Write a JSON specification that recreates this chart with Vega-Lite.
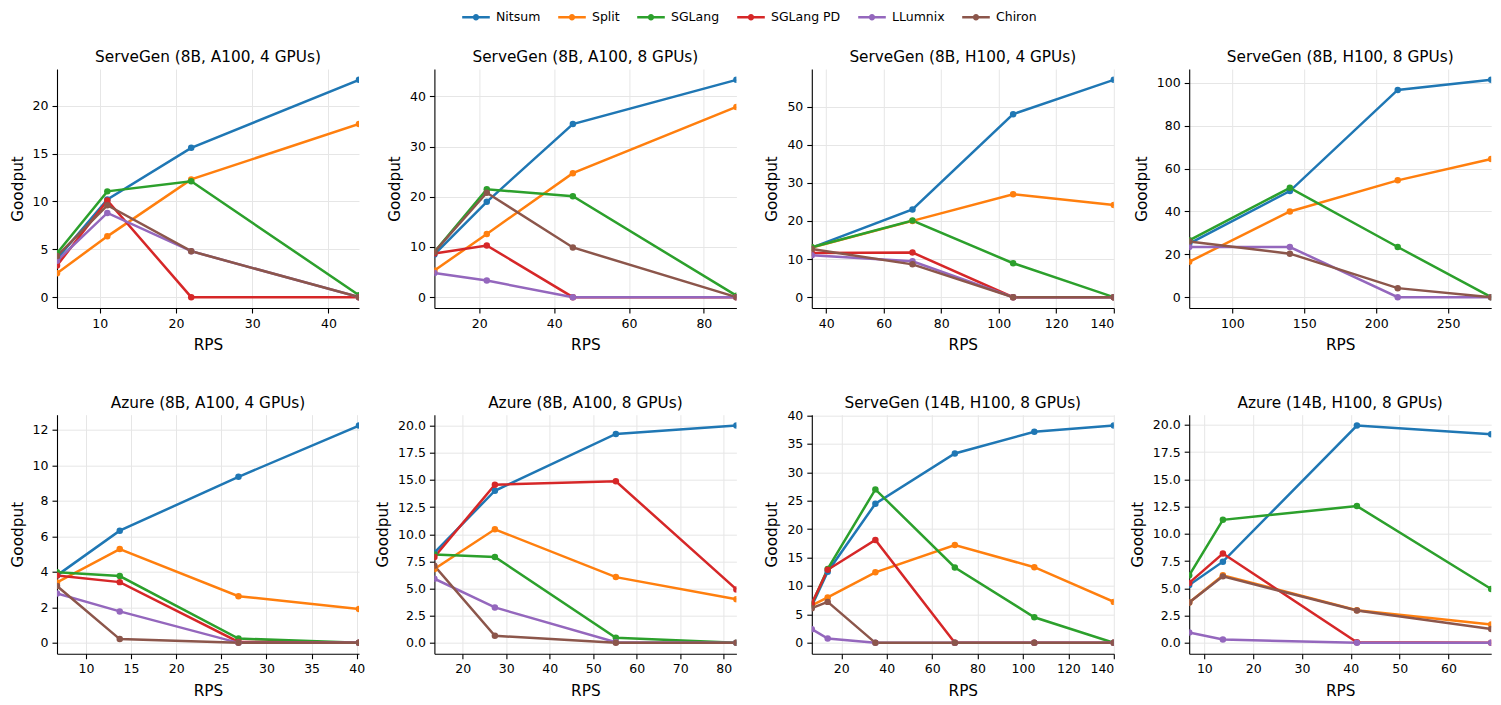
{
  "$schema": "https://vega.github.io/schema/vega-lite/v6.json",
  "background": "white",
  "padding": {"left": 10, "top": 3, "right": 5, "bottom": 5},
  "columns": 4,
  "bounds": "flush",
  "spacing": {"row": 106.7, "column": 75.4},
  "data": {"values": [
    {"panel":1,"system":"Nitsum","rps":4.4,"goodput":4.0},{"panel":1,"system":"Nitsum","rps":11,"goodput":10.2},{"panel":1,"system":"Nitsum","rps":22,"goodput":15.6},{"panel":1,"system":"Nitsum","rps":44,"goodput":22.7},
    {"panel":1,"system":"Split","rps":4.4,"goodput":2.5},{"panel":1,"system":"Split","rps":11,"goodput":6.35},{"panel":1,"system":"Split","rps":22,"goodput":12.3},{"panel":1,"system":"Split","rps":44,"goodput":18.1},
    {"panel":1,"system":"SGLang","rps":4.4,"goodput":4.6},{"panel":1,"system":"SGLang","rps":11,"goodput":11.05},{"panel":1,"system":"SGLang","rps":22,"goodput":12.1},{"panel":1,"system":"SGLang","rps":44,"goodput":0.2},
    {"panel":1,"system":"SGLang PD","rps":4.4,"goodput":3.3},{"panel":1,"system":"SGLang PD","rps":11,"goodput":10.1},{"panel":1,"system":"SGLang PD","rps":22,"goodput":0},{"panel":1,"system":"SGLang PD","rps":44,"goodput":0},
    {"panel":1,"system":"LLumnix","rps":4.4,"goodput":3.8},{"panel":1,"system":"LLumnix","rps":11,"goodput":8.8},{"panel":1,"system":"LLumnix","rps":22,"goodput":4.8},{"panel":1,"system":"LLumnix","rps":44,"goodput":0},
    {"panel":1,"system":"Chiron","rps":4.4,"goodput":4.3},{"panel":1,"system":"Chiron","rps":11,"goodput":9.6},{"panel":1,"system":"Chiron","rps":22,"goodput":4.8},{"panel":1,"system":"Chiron","rps":44,"goodput":0},

    {"panel":2,"system":"Nitsum","rps":8,"goodput":8.5},{"panel":2,"system":"Nitsum","rps":22,"goodput":19.0},{"panel":2,"system":"Nitsum","rps":45,"goodput":34.5},{"panel":2,"system":"Nitsum","rps":88.7,"goodput":43.3},
    {"panel":2,"system":"Split","rps":8,"goodput":5.3},{"panel":2,"system":"Split","rps":22,"goodput":12.6},{"panel":2,"system":"Split","rps":45,"goodput":24.7},{"panel":2,"system":"Split","rps":88.7,"goodput":37.9},
    {"panel":2,"system":"SGLang","rps":8,"goodput":9.0},{"panel":2,"system":"SGLang","rps":22,"goodput":21.5},{"panel":2,"system":"SGLang","rps":45,"goodput":20.1},{"panel":2,"system":"SGLang","rps":88.7,"goodput":0.3},
    {"panel":2,"system":"SGLang PD","rps":8,"goodput":8.7},{"panel":2,"system":"SGLang PD","rps":22,"goodput":10.3},{"panel":2,"system":"SGLang PD","rps":45,"goodput":0},{"panel":2,"system":"SGLang PD","rps":88.7,"goodput":0},
    {"panel":2,"system":"LLumnix","rps":8,"goodput":4.8},{"panel":2,"system":"LLumnix","rps":22,"goodput":3.3},{"panel":2,"system":"LLumnix","rps":45,"goodput":0},{"panel":2,"system":"LLumnix","rps":88.7,"goodput":0},
    {"panel":2,"system":"Chiron","rps":8,"goodput":9.0},{"panel":2,"system":"Chiron","rps":22,"goodput":20.8},{"panel":2,"system":"Chiron","rps":45,"goodput":9.9},{"panel":2,"system":"Chiron","rps":88.7,"goodput":0},

    {"panel":3,"system":"Nitsum","rps":35,"goodput":13.0},{"panel":3,"system":"Nitsum","rps":70,"goodput":23.0},{"panel":3,"system":"Nitsum","rps":105,"goodput":48.0},{"panel":3,"system":"Nitsum","rps":140,"goodput":57.0},
    {"panel":3,"system":"Split","rps":35,"goodput":13.0},{"panel":3,"system":"Split","rps":70,"goodput":20.0},{"panel":3,"system":"Split","rps":105,"goodput":27.0},{"panel":3,"system":"Split","rps":140,"goodput":24.2},
    {"panel":3,"system":"SGLang","rps":35,"goodput":13.1},{"panel":3,"system":"SGLang","rps":70,"goodput":20.1},{"panel":3,"system":"SGLang","rps":105,"goodput":8.9},{"panel":3,"system":"SGLang","rps":140,"goodput":0},
    {"panel":3,"system":"SGLang PD","rps":35,"goodput":11.6},{"panel":3,"system":"SGLang PD","rps":70,"goodput":11.7},{"panel":3,"system":"SGLang PD","rps":105,"goodput":0},{"panel":3,"system":"SGLang PD","rps":140,"goodput":0},
    {"panel":3,"system":"LLumnix","rps":35,"goodput":11.0},{"panel":3,"system":"LLumnix","rps":70,"goodput":9.4},{"panel":3,"system":"LLumnix","rps":105,"goodput":0},{"panel":3,"system":"LLumnix","rps":140,"goodput":0},
    {"panel":3,"system":"Chiron","rps":35,"goodput":12.6},{"panel":3,"system":"Chiron","rps":70,"goodput":8.6},{"panel":3,"system":"Chiron","rps":105,"goodput":0},{"panel":3,"system":"Chiron","rps":140,"goodput":0},

    {"panel":4,"system":"Nitsum","rps":70,"goodput":25.0},{"panel":4,"system":"Nitsum","rps":140,"goodput":49.5},{"panel":4,"system":"Nitsum","rps":215,"goodput":96.7},{"panel":4,"system":"Nitsum","rps":280,"goodput":101.4},
    {"panel":4,"system":"Split","rps":70,"goodput":16.5},{"panel":4,"system":"Split","rps":140,"goodput":40.0},{"panel":4,"system":"Split","rps":215,"goodput":54.5},{"panel":4,"system":"Split","rps":280,"goodput":64.5},
    {"panel":4,"system":"SGLang","rps":70,"goodput":26.5},{"panel":4,"system":"SGLang","rps":140,"goodput":51.0},{"panel":4,"system":"SGLang","rps":215,"goodput":23.4},{"panel":4,"system":"SGLang","rps":280,"goodput":0},
    {"panel":4,"system":"LLumnix","rps":70,"goodput":23.4},{"panel":4,"system":"LLumnix","rps":140,"goodput":23.4},{"panel":4,"system":"LLumnix","rps":215,"goodput":0},{"panel":4,"system":"LLumnix","rps":280,"goodput":0},
    {"panel":4,"system":"Chiron","rps":70,"goodput":26.0},{"panel":4,"system":"Chiron","rps":140,"goodput":20.3},{"panel":4,"system":"Chiron","rps":215,"goodput":4.2},{"panel":4,"system":"Chiron","rps":280,"goodput":0},

    {"panel":5,"system":"Nitsum","rps":6.8,"goodput":3.8},{"panel":5,"system":"Nitsum","rps":13.75,"goodput":6.32},{"panel":5,"system":"Nitsum","rps":26.9,"goodput":9.35},{"panel":5,"system":"Nitsum","rps":40.25,"goodput":12.24},
    {"panel":5,"system":"Split","rps":6.8,"goodput":3.4},{"panel":5,"system":"Split","rps":13.75,"goodput":5.28},{"panel":5,"system":"Split","rps":26.9,"goodput":2.63},{"panel":5,"system":"Split","rps":40.25,"goodput":1.9},
    {"panel":5,"system":"SGLang","rps":6.8,"goodput":3.97},{"panel":5,"system":"SGLang","rps":13.75,"goodput":3.76},{"panel":5,"system":"SGLang","rps":26.9,"goodput":0.24},{"panel":5,"system":"SGLang","rps":40.25,"goodput":0},
    {"panel":5,"system":"SGLang PD","rps":6.8,"goodput":3.8},{"panel":5,"system":"SGLang PD","rps":13.75,"goodput":3.42},{"panel":5,"system":"SGLang PD","rps":26.9,"goodput":0.05},{"panel":5,"system":"SGLang PD","rps":40.25,"goodput":0},
    {"panel":5,"system":"LLumnix","rps":6.8,"goodput":2.78},{"panel":5,"system":"LLumnix","rps":13.75,"goodput":1.77},{"panel":5,"system":"LLumnix","rps":26.9,"goodput":0},{"panel":5,"system":"LLumnix","rps":40.25,"goodput":0},
    {"panel":5,"system":"Chiron","rps":6.8,"goodput":3.2},{"panel":5,"system":"Chiron","rps":13.75,"goodput":0.21},{"panel":5,"system":"Chiron","rps":26.9,"goodput":0},{"panel":5,"system":"Chiron","rps":40.25,"goodput":0},

    {"panel":6,"system":"Nitsum","rps":13.5,"goodput":8.3},{"panel":6,"system":"Nitsum","rps":27.4,"goodput":14.0},{"panel":6,"system":"Nitsum","rps":55.2,"goodput":19.23},{"panel":6,"system":"Nitsum","rps":82.9,"goodput":20.0},
    {"panel":6,"system":"Split","rps":13.5,"goodput":6.79},{"panel":6,"system":"Split","rps":27.4,"goodput":10.45},{"panel":6,"system":"Split","rps":55.2,"goodput":6.05},{"panel":6,"system":"Split","rps":82.9,"goodput":4.02},
    {"panel":6,"system":"SGLang","rps":13.5,"goodput":8.14},{"panel":6,"system":"SGLang","rps":27.4,"goodput":7.9},{"panel":6,"system":"SGLang","rps":55.2,"goodput":0.46},{"panel":6,"system":"SGLang","rps":82.9,"goodput":0},
    {"panel":6,"system":"SGLang PD","rps":13.5,"goodput":7.9},{"panel":6,"system":"SGLang PD","rps":27.4,"goodput":14.56},{"panel":6,"system":"SGLang PD","rps":55.2,"goodput":14.87},{"panel":6,"system":"SGLang PD","rps":82.9,"goodput":4.92},
    {"panel":6,"system":"LLumnix","rps":13.5,"goodput":5.9},{"panel":6,"system":"LLumnix","rps":27.4,"goodput":3.26},{"panel":6,"system":"LLumnix","rps":55.2,"goodput":0.05},{"panel":6,"system":"LLumnix","rps":82.9,"goodput":0},
    {"panel":6,"system":"Chiron","rps":13.5,"goodput":7.1},{"panel":6,"system":"Chiron","rps":27.4,"goodput":0.65},{"panel":6,"system":"Chiron","rps":55.2,"goodput":0},{"panel":6,"system":"Chiron","rps":82.9,"goodput":0},

    {"panel":7,"system":"Nitsum","rps":7,"goodput":6.5},{"panel":7,"system":"Nitsum","rps":14,"goodput":12.5},{"panel":7,"system":"Nitsum","rps":35,"goodput":24.46},{"panel":7,"system":"Nitsum","rps":70,"goodput":33.3},{"panel":7,"system":"Nitsum","rps":105,"goodput":37.1},{"panel":7,"system":"Nitsum","rps":140,"goodput":38.2},
    {"panel":7,"system":"Split","rps":7,"goodput":6.6},{"panel":7,"system":"Split","rps":14,"goodput":7.98},{"panel":7,"system":"Split","rps":35,"goodput":12.4},{"panel":7,"system":"Split","rps":70,"goodput":17.2},{"panel":7,"system":"Split","rps":105,"goodput":13.3},{"panel":7,"system":"Split","rps":140,"goodput":7.2},
    {"panel":7,"system":"SGLang","rps":7,"goodput":6.8},{"panel":7,"system":"SGLang","rps":14,"goodput":13.0},{"panel":7,"system":"SGLang","rps":35,"goodput":26.98},{"panel":7,"system":"SGLang","rps":70,"goodput":13.25},{"panel":7,"system":"SGLang","rps":105,"goodput":4.5},{"panel":7,"system":"SGLang","rps":140,"goodput":0},
    {"panel":7,"system":"SGLang PD","rps":7,"goodput":6.9},{"panel":7,"system":"SGLang PD","rps":14,"goodput":12.85},{"panel":7,"system":"SGLang PD","rps":35,"goodput":18.1},{"panel":7,"system":"SGLang PD","rps":70,"goodput":0},{"panel":7,"system":"SGLang PD","rps":105,"goodput":0},{"panel":7,"system":"SGLang PD","rps":140,"goodput":0},
    {"panel":7,"system":"LLumnix","rps":7,"goodput":2.4},{"panel":7,"system":"LLumnix","rps":14,"goodput":0.76},{"panel":7,"system":"LLumnix","rps":35,"goodput":0},{"panel":7,"system":"LLumnix","rps":70,"goodput":0},{"panel":7,"system":"LLumnix","rps":105,"goodput":0},{"panel":7,"system":"LLumnix","rps":140,"goodput":0},
    {"panel":7,"system":"Chiron","rps":7,"goodput":6.1},{"panel":7,"system":"Chiron","rps":14,"goodput":7.2},{"panel":7,"system":"Chiron","rps":35,"goodput":0},{"panel":7,"system":"Chiron","rps":70,"goodput":0},{"panel":7,"system":"Chiron","rps":105,"goodput":0},{"panel":7,"system":"Chiron","rps":140,"goodput":0},

    {"panel":8,"system":"Nitsum","rps":6.9,"goodput":5.3},{"panel":8,"system":"Nitsum","rps":13.8,"goodput":7.45},{"panel":8,"system":"Nitsum","rps":41.25,"goodput":19.94},{"panel":8,"system":"Nitsum","rps":68.75,"goodput":19.14},
    {"panel":8,"system":"Split","rps":6.9,"goodput":3.7},{"panel":8,"system":"Split","rps":13.8,"goodput":6.2},{"panel":8,"system":"Split","rps":41.25,"goodput":3.0},{"panel":8,"system":"Split","rps":68.75,"goodput":1.69},
    {"panel":8,"system":"SGLang","rps":6.9,"goodput":6.2},{"panel":8,"system":"SGLang","rps":13.8,"goodput":11.29},{"panel":8,"system":"SGLang","rps":41.25,"goodput":12.55},{"panel":8,"system":"SGLang","rps":68.75,"goodput":4.94},
    {"panel":8,"system":"SGLang PD","rps":6.9,"goodput":5.5},{"panel":8,"system":"SGLang PD","rps":13.8,"goodput":8.2},{"panel":8,"system":"SGLang PD","rps":41.25,"goodput":0.05},{"panel":8,"system":"SGLang PD","rps":68.75,"goodput":0},
    {"panel":8,"system":"LLumnix","rps":6.9,"goodput":0.95},{"panel":8,"system":"LLumnix","rps":13.8,"goodput":0.3},{"panel":8,"system":"LLumnix","rps":41.25,"goodput":0},{"panel":8,"system":"LLumnix","rps":68.75,"goodput":0},
    {"panel":8,"system":"Chiron","rps":6.9,"goodput":3.7},{"panel":8,"system":"Chiron","rps":13.8,"goodput":6.1},{"panel":8,"system":"Chiron","rps":41.25,"goodput":2.97},{"panel":8,"system":"Chiron","rps":68.75,"goodput":1.26}
  ]},
  "concat": [
    {
      "title": "ServeGen (8B, A100, 4 GPUs)", "width": 302, "height": 239,
      "transform": [{"filter": "datum.panel == 1"}],
      "encoding": {
        "x": {"field": "rps", "type": "quantitative", "title": "RPS", "scale": {"domain": [4.4, 44], "nice": false, "zero": false}, "axis": {"values": [10, 20, 30, 40]}},
        "y": {"field": "goodput", "type": "quantitative", "title": "Goodput", "scale": {"domain": [-1.135, 23.835], "nice": false, "zero": false}, "axis": {"values": [0, 5, 10, 15, 20]}},
        "color": {"field": "system", "type": "nominal", "scale": {"domain": ["Nitsum", "Split", "SGLang", "SGLang PD", "LLumnix", "Chiron"], "range": ["#1f77b4", "#ff7f0e", "#2ca02c", "#d62728", "#9467bd", "#8c564b"]},
          "legend": {"orient": "none", "legendX": 405, "legendY": -66, "direction": "horizontal", "title": null,
            "symbolType": "M-1,-0.09H1V0.09H-1Z M0.23,0A0.23,0.23,0,1,1,-0.23,0A0.23,0.23,0,1,1,0.23,0Z",
            "symbolSize": 762, "symbolStrokeWidth": 0, "symbolOpacity": 1, "labelFontSize": 12.5, "labelFont": "DejaVu Sans", "labelColor": "#000", "labelOffset": 6, "columnPadding": 17,
            "encode": {"symbols": {"update": {"fill": {"scale": "color", "field": "value"}, "stroke": {"value": "transparent"}, "opacity": {"value": 1}}}}}}
      },
      "layer": [
        {"mark": {"type": "line", "strokeWidth": 2.5, "clip": true}},
        {"mark": {"type": "point", "filled": true, "size": 42, "opacity": 1, "clip": true}}
      ]
    },
    {
      "title": "ServeGen (8B, A100, 8 GPUs)", "width": 302, "height": 239,
      "transform": [{"filter": "datum.panel == 2"}],
      "encoding": {
        "x": {"field": "rps", "type": "quantitative", "title": "RPS", "scale": {"domain": [8, 88.7], "nice": false, "zero": false}, "axis": {"values": [20, 40, 60, 80]}},
        "y": {"field": "goodput", "type": "quantitative", "title": "Goodput", "scale": {"domain": [-2.165, 45.465], "nice": false, "zero": false}, "axis": {"values": [0, 10, 20, 30, 40]}},
        "color": {"field": "system", "type": "nominal", "scale": {"domain": ["Nitsum", "Split", "SGLang", "SGLang PD", "LLumnix", "Chiron"], "range": ["#1f77b4", "#ff7f0e", "#2ca02c", "#d62728", "#9467bd", "#8c564b"]}}
      },
      "layer": [
        {"mark": {"type": "line", "strokeWidth": 2.5, "clip": true}},
        {"mark": {"type": "point", "filled": true, "size": 42, "opacity": 1, "clip": true}}
      ]
    },
    {
      "title": "ServeGen (8B, H100, 4 GPUs)", "width": 302, "height": 239,
      "transform": [{"filter": "datum.panel == 3"}],
      "encoding": {
        "x": {"field": "rps", "type": "quantitative", "title": "RPS", "scale": {"domain": [35, 140], "nice": false, "zero": false}, "axis": {"values": [40, 60, 80, 100, 120, 140]}},
        "y": {"field": "goodput", "type": "quantitative", "title": "Goodput", "scale": {"domain": [-2.85, 59.85], "nice": false, "zero": false}, "axis": {"values": [0, 10, 20, 30, 40, 50]}},
        "color": {"field": "system", "type": "nominal", "scale": {"domain": ["Nitsum", "Split", "SGLang", "SGLang PD", "LLumnix", "Chiron"], "range": ["#1f77b4", "#ff7f0e", "#2ca02c", "#d62728", "#9467bd", "#8c564b"]}}
      },
      "layer": [
        {"mark": {"type": "line", "strokeWidth": 2.5, "clip": true}},
        {"mark": {"type": "point", "filled": true, "size": 42, "opacity": 1, "clip": true}}
      ]
    },
    {
      "title": "ServeGen (8B, H100, 8 GPUs)", "width": 302, "height": 239,
      "transform": [{"filter": "datum.panel == 4"}],
      "encoding": {
        "x": {"field": "rps", "type": "quantitative", "title": "RPS", "scale": {"domain": [70, 280], "nice": false, "zero": false}, "axis": {"values": [100, 150, 200, 250]}},
        "y": {"field": "goodput", "type": "quantitative", "title": "Goodput", "scale": {"domain": [-5.07, 106.47], "nice": false, "zero": false}, "axis": {"values": [0, 20, 40, 60, 80, 100]}},
        "color": {"field": "system", "type": "nominal", "scale": {"domain": ["Nitsum", "Split", "SGLang", "SGLang PD", "LLumnix", "Chiron"], "range": ["#1f77b4", "#ff7f0e", "#2ca02c", "#d62728", "#9467bd", "#8c564b"]}}
      },
      "layer": [
        {"mark": {"type": "line", "strokeWidth": 2.5, "clip": true}},
        {"mark": {"type": "point", "filled": true, "size": 42, "opacity": 1, "clip": true}}
      ]
    },
    {
      "title": "Azure (8B, A100, 4 GPUs)", "width": 302, "height": 239,
      "transform": [{"filter": "datum.panel == 5"}],
      "encoding": {
        "x": {"field": "rps", "type": "quantitative", "title": "RPS", "scale": {"domain": [6.8, 40.25], "nice": false, "zero": false}, "axis": {"values": [10, 15, 20, 25, 30, 35, 40]}},
        "y": {"field": "goodput", "type": "quantitative", "title": "Goodput", "scale": {"domain": [-0.612, 12.852], "nice": false, "zero": false}, "axis": {"values": [0, 2, 4, 6, 8, 10, 12]}},
        "color": {"field": "system", "type": "nominal", "scale": {"domain": ["Nitsum", "Split", "SGLang", "SGLang PD", "LLumnix", "Chiron"], "range": ["#1f77b4", "#ff7f0e", "#2ca02c", "#d62728", "#9467bd", "#8c564b"]}}
      },
      "layer": [
        {"mark": {"type": "line", "strokeWidth": 2.5, "clip": true}},
        {"mark": {"type": "point", "filled": true, "size": 42, "opacity": 1, "clip": true}}
      ]
    },
    {
      "title": "Azure (8B, A100, 8 GPUs)", "width": 302, "height": 239,
      "transform": [{"filter": "datum.panel == 6"}],
      "encoding": {
        "x": {"field": "rps", "type": "quantitative", "title": "RPS", "scale": {"domain": [13.5, 82.9], "nice": false, "zero": false}, "axis": {"values": [20, 30, 40, 50, 60, 70, 80]}},
        "y": {"field": "goodput", "type": "quantitative", "title": "Goodput", "scale": {"domain": [-1.0, 21.0], "nice": false, "zero": false}, "axis": {"values": [0, 2.5, 5, 7.5, 10, 12.5, 15, 17.5, 20], "format": ".1f"}},
        "color": {"field": "system", "type": "nominal", "scale": {"domain": ["Nitsum", "Split", "SGLang", "SGLang PD", "LLumnix", "Chiron"], "range": ["#1f77b4", "#ff7f0e", "#2ca02c", "#d62728", "#9467bd", "#8c564b"]}}
      },
      "layer": [
        {"mark": {"type": "line", "strokeWidth": 2.5, "clip": true}},
        {"mark": {"type": "point", "filled": true, "size": 42, "opacity": 1, "clip": true}}
      ]
    },
    {
      "title": {"text": "ServeGen (14B, H100, 8 GPUs)", "dy": 5},
      "width": 302, "height": 239,
      "transform": [{"filter": "datum.panel == 7"}],
      "encoding": {
        "x": {"field": "rps", "type": "quantitative", "title": "RPS", "scale": {"domain": [7, 140], "nice": false, "zero": false}, "axis": {"values": [20, 40, 60, 80, 100, 120, 140]}},
        "y": {"field": "goodput", "type": "quantitative", "title": "Goodput", "scale": {"domain": [-1.91, 40.11], "nice": false, "zero": false}, "axis": {"values": [0, 5, 10, 15, 20, 25, 30, 35, 40]}},
        "color": {"field": "system", "type": "nominal", "scale": {"domain": ["Nitsum", "Split", "SGLang", "SGLang PD", "LLumnix", "Chiron"], "range": ["#1f77b4", "#ff7f0e", "#2ca02c", "#d62728", "#9467bd", "#8c564b"]}}
      },
      "layer": [
        {"mark": {"type": "line", "strokeWidth": 2.5, "clip": true}},
        {"mark": {"type": "point", "filled": true, "size": 42, "opacity": 1, "clip": true}}
      ]
    },
    {
      "title": "Azure (14B, H100, 8 GPUs)", "width": 302, "height": 239,
      "transform": [{"filter": "datum.panel == 8"}],
      "encoding": {
        "x": {"field": "rps", "type": "quantitative", "title": "RPS", "scale": {"domain": [6.9, 68.75], "nice": false, "zero": false}, "axis": {"values": [10, 20, 30, 40, 50, 60]}},
        "y": {"field": "goodput", "type": "quantitative", "title": "Goodput", "scale": {"domain": [-0.997, 20.937], "nice": false, "zero": false}, "axis": {"values": [0, 2.5, 5, 7.5, 10, 12.5, 15, 17.5, 20], "format": ".1f"}},
        "color": {"field": "system", "type": "nominal", "scale": {"domain": ["Nitsum", "Split", "SGLang", "SGLang PD", "LLumnix", "Chiron"], "range": ["#1f77b4", "#ff7f0e", "#2ca02c", "#d62728", "#9467bd", "#8c564b"]}}
      },
      "layer": [
        {"mark": {"type": "line", "strokeWidth": 2.5, "clip": true}},
        {"mark": {"type": "point", "filled": true, "size": 42, "opacity": 1, "clip": true}}
      ]
    }
  ],
  "config": {
    "font": "DejaVu Sans",
    "view": {"stroke": null},
    "axis": {
      "labelFont": "DejaVu Sans", "labelFontSize": 12.5, "labelColor": "#000",
      "titleFont": "DejaVu Sans", "titleFontSize": 15.3, "titleFontWeight": "normal", "titleColor": "#000",
      "domainColor": "#000", "domainWidth": 1.1, "tickColor": "#000", "tickWidth": 1.1, "tickSize": 5,
      "labelPadding": 4, "titlePadding": 7, "gridColor": "#e6e6e6", "gridWidth": 1
    },
    "axisX": {"titlePadding": 8},
    "title": {"font": "DejaVu Sans", "fontSize": 15.3, "fontWeight": "normal", "color": "#000", "offset": 3.5}
  }
}
